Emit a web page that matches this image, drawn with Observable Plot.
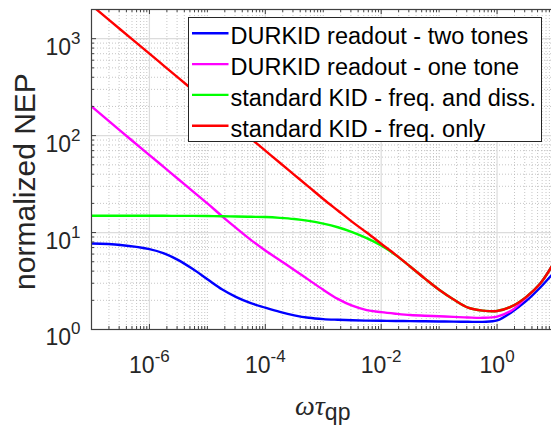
<!DOCTYPE html>
<html>
<head>
<meta charset="utf-8">
<script src="https://cdn.jsdelivr.net/npm/d3@7"></script>
<script src="https://cdn.jsdelivr.net/npm/@observablehq/plot@0.6"></script>
<style>
  html, body { margin: 0; padding: 0; background: #fff; overflow: hidden; }
  #chart { width: 551px; height: 429px; overflow: hidden; }
</style>
</head>
<body>
<div id="chart"></div>
<script>
// Normalized NEP versus omega*tau_qp for the four readout schemes
const omegaTau = [1e-7, 3.16e-7, 1e-6, 1.78e-6, 3.16e-6, 5.62e-6, 1e-5, 1.78e-5, 3.16e-5, 5.62e-5,
                  1e-4, 1.78e-4, 3.16e-4, 5.62e-4, 1e-3, 1.78e-3, 3.16e-3, 5.62e-3, 1e-2, 1.78e-2,
                  3.16e-2, 5.62e-2, 0.1, 0.178, 0.316, 0.562, 1, 1.78, 3.16, 5.62, 10];
const durkidTwoTones = [7.7, 7.45, 6.75, 6.1, 5.2, 4.2, 3.3, 2.6, 2.16, 1.87,
                        1.68, 1.52, 1.40, 1.32, 1.28, 1.26, 1.245, 1.235, 1.23, 1.225,
                        1.22, 1.215, 1.21, 1.205, 1.20, 1.20, 1.24, 1.51, 1.96, 2.73, 4.0];
const durkidOneTone = [200, 112, 63, 47.3, 35.5, 26.6, 20, 14.8, 11.1, 8.41,
                       6.53, 5.19, 4.12, 3.25, 2.57, 2.07, 1.76, 1.585, 1.51, 1.455,
                       1.41, 1.385, 1.37, 1.35, 1.33, 1.32, 1.36, 1.57, 2.12, 3.0, 5.1];
const kidFreqDiss = [14.9, 14.9, 14.9, 14.9, 14.85, 14.85, 14.8, 14.75, 14.65, 14.55,
                     14.45, 14.19, 13.8, 13.18, 12.36, 11.35, 10.12, 8.75, 7.35, 5.85,
                     4.47, 3.37, 2.57, 2.04, 1.68, 1.567, 1.55, 1.73, 2.16, 3.0, 5.1];
const kidFreqOnly = [2213, 1245, 700, 525, 394, 295, 221, 166, 124.5, 93.3,
                     70, 52.5, 39.4, 29.6, 22.2, 16.9, 12.9, 10.0, 7.67, 5.89,
                     4.47, 3.37, 2.57, 2.04, 1.68, 1.567, 1.55, 1.73, 2.16, 3.0, 5.1];

const seriesNames = ["DURKID readout - two tones", "DURKID readout - one tone",
                     "standard KID - freq. and diss.", "standard KID - freq. only"];
const seriesColors = ["#0000ff", "#ff00ff", "#00ff00", "#ff0000"];
const seriesValues = [durkidTwoTones, durkidOneTone, kidFreqDiss, kidFreqOnly];

const xLabeledTicks = [1e-6, 1e-4, 1e-2, 1];
const yLabeledTicks = [1, 10, 100, 1000];
const xDomain = [1e-7, 10];
const yDomain = [1, 2000];

// Minor ticks: every k*10^n not already labeled
const xMinorTicks = [];
for (let n = -7; n <= 0; n++) for (let k = 1; k <= 9; k++) {
  const v = +(k * Math.pow(10, n)).toPrecision(3);
  if (!xLabeledTicks.includes(v)) xMinorTicks.push(v);
}
xMinorTicks.push(10);
const yMinorTicks = [];
for (let n = 0; n <= 3; n++) for (let k = 2; k <= 9; k++) {
  const v = k * Math.pow(10, n);
  if (v <= yDomain[1]) yMinorTicks.push(v);
}

const width = 551, height = 429;
const mTop = 9, mRight = -3.5, mBottom = 100, mLeft = 91;
const frameH = height - mTop - mBottom;
const frameW = width - mRight - mLeft;
const axisColor = "#404040";
const textColor = "#262626";
const font = "'Liberation Sans', Arial, Helvetica, sans-serif";

const rows = seriesValues.map((vals, i) =>
  omegaTau.map((x, j) => ({x, y: vals[j], series: seriesNames[i]})));

const expFormat = d => String(Math.round(Math.log10(d)));

const plot = Plot.plot({
  width, height,
  marginTop: mTop, marginRight: mRight, marginBottom: mBottom, marginLeft: mLeft,
  x: {type: "log", domain: xDomain, label: null},
  y: {type: "log", domain: yDomain, label: null},
  style: {background: "#fff", fontFamily: font, color: textColor, overflow: "hidden", maxWidth: "none"},
  marks: [
    Plot.gridX(xMinorTicks, {stroke: "#b8b8b8", strokeOpacity: 1, strokeWidth: 0.8, strokeDasharray: "1,2"}),
    Plot.gridY(yMinorTicks, {stroke: "#b8b8b8", strokeOpacity: 1, strokeWidth: 0.8, strokeDasharray: "1,2"}),
    Plot.gridX(xLabeledTicks, {stroke: "#dcdcdc", strokeOpacity: 1, strokeWidth: 1.2}),
    Plot.gridY(yLabeledTicks, {stroke: "#dcdcdc", strokeOpacity: 1, strokeWidth: 1.2}),
    ...rows.map((r, i) => Plot.line(r, {
      x: "x", y: "y", stroke: seriesColors[i], strokeWidth: 2.4, curve: "catmull-rom", clip: true
    })),
    // inward ticks on bottom, top and left
    Plot.ruleX(xLabeledTicks, {x: d => d, insetTop: frameH - 5, stroke: axisColor}),
    Plot.ruleX(xMinorTicks, {x: d => d, insetTop: frameH - 3, stroke: axisColor}),
    Plot.ruleX(xLabeledTicks, {x: d => d, insetBottom: frameH - 5, stroke: axisColor}),
    Plot.ruleX(xMinorTicks, {x: d => d, insetBottom: frameH - 3, stroke: axisColor}),
    Plot.ruleY(yLabeledTicks, {y: d => d, insetRight: frameW - 5, stroke: axisColor}),
    Plot.ruleY(yMinorTicks, {y: d => d, insetRight: frameW - 3, stroke: axisColor}),
    Plot.frame({stroke: axisColor, strokeWidth: 1.2}),
    Plot.axisX(xLabeledTicks, {tickSize: 0, tickPadding: 27, tickFormat: expFormat, fontSize: 23, label: null}),
    Plot.axisY(yLabeledTicks, {tickSize: 0, tickPadding: 11, tickFormat: expFormat, fontSize: 23, dy: 8.6, label: null})
  ]
});

document.getElementById("chart").append(plot);

// Powers of ten with superscript exponents
const ns = "http://www.w3.org/2000/svg";
plot.querySelectorAll('[aria-label="x-axis tick label"] text, [aria-label="y-axis tick label"] text').forEach(t => {
  const exp = t.textContent;
  t.textContent = "";
  const base = document.createElementNS(ns, "tspan");
  base.textContent = "10";
  const sup = document.createElementNS(ns, "tspan");
  sup.textContent = exp;
  sup.setAttribute("font-size", "17");
  sup.setAttribute("dy", "-11");
  t.append(base, sup);
});

const svg = d3.select(plot);

// Axis titles
svg.append("text")
  .attr("transform", "translate(35,181.5) rotate(-90)")
  .attr("text-anchor", "middle")
  .attr("font-family", font)
  .attr("font-size", 30)
  .attr("fill", textColor)
  .text("normalized NEP");

const xt = svg.append("text")
  .attr("x", (mLeft + width - mRight) / 2)
  .attr("y", 415)
  .attr("text-anchor", "middle")
  .attr("fill", textColor);
xt.append("tspan")
  .attr("font-family", "'Liberation Serif', 'DejaVu Serif', serif")
  .attr("font-style", "italic")
  .attr("font-size", 28)
  .text("ωτ");
xt.append("tspan")
  .attr("font-family", font)
  .attr("font-size", 23)
  .attr("dy", 5)
  .text("qp");

// Legend
const lg = svg.append("g")
  .attr("font-family", font)
  .attr("font-size", 23.5)
  .attr("text-anchor", "start");
lg.append("rect")
  .attr("x", 188.5).attr("y", 17.5).attr("width", 353).attr("height", 124)
  .attr("fill", "#fff").attr("stroke", "#262626").attr("stroke-width", 1);
seriesNames.forEach((name, i) => {
  const cy = 33.3 + i * 30.8;
  lg.append("line")
    .attr("x1", 192).attr("x2", 228.5).attr("y1", cy).attr("y2", cy)
    .attr("stroke", seriesColors[i]).attr("stroke-width", 2.4);
  lg.append("text")
    .attr("x", 230.5).attr("y", cy + 11)
    .attr("text-anchor", "start")
    .attr("fill", "#000")
    .text(name);
});
</script>
</body>
</html>
